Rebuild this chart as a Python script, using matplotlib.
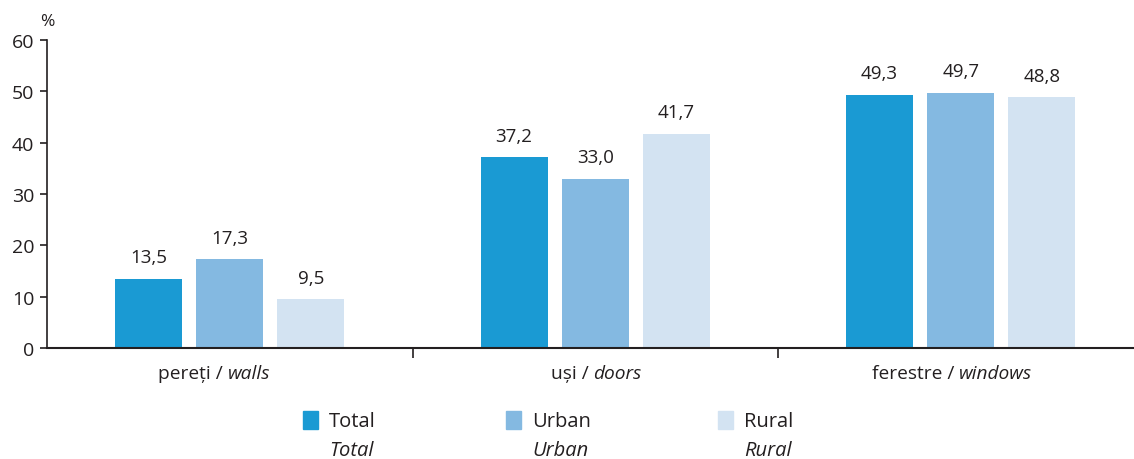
import matplotlib.pyplot as plt
import numpy as np

plt.rcParams['font.family'] = ['Open Sans', 'DejaVu Sans']

categorii = ['pereți', 'uși', 'ferestre']
categorii_en = ['walls', 'doors', 'windows']
serii = ['Total', 'Urban', 'Rural']
total = [13.5, 37.2, 49.3]
urban = [17.3, 33.0, 49.7]
rural = [9.5, 41.7, 48.8]
culori = ['#1a9ad3', '#84b9e1', '#d3e3f2']

fig = plt.figure(figsize=(11.34, 4.6), dpi=100)
ax = fig.add_axes([47 / 1134, 111 / 460, 1087 / 1134, 308 / 460])

x = np.arange(len(categorii))
latime = 0.183
pas = 0.222
for i, (valori, culoare) in enumerate(zip([total, urban, rural], culori)):
    bare = ax.bar(x + (i - 1) * pas, valori, width=latime, color=culoare, zorder=2)
    for b, v in zip(bare, valori):
        ax.annotate(f'{v:.1f}'.replace('.', ','), (b.get_x() + b.get_width() / 2, v),
                    xytext=(0, 9), textcoords='offset points', ha='center', va='bottom',
                    fontsize=13.5, color='#231f20')

ax.set_ylim(0, 60)
ax.set_xlim(-0.5, -0.5 + 1087 / 365.5)
ax.set_yticks(range(0, 61, 10))
ax.tick_params(axis='y', labelsize=14, length=5, width=1.2, colors='#231f20', pad=4)

# etichete categorii centrate, separatoare ca ticks minore
ax.set_xticks(x)
ax.set_xticklabels([])
ax.tick_params(axis='x', which='major', length=0)
ax.set_xticks([0.5, 1.5], minor=True)
ax.tick_params(axis='x', which='minor', length=7, width=1.2, direction='out', colors='#231f20')
for xi, ro, en in zip(x, categorii, categorii_en):
    ax.text(xi - 0.005, -4.8, ro + ' / ', ha='right', va='center', fontsize=13.8, color='#231f20',
            transform=ax.transData)
    ax.text(xi - 0.005, -4.8, en, ha='left', va='center', fontsize=13.8, style='italic',
            color='#231f20', transform=ax.transData)

for s in ['top', 'right']:
    ax.spines[s].set_visible(False)
ax.spines['left'].set_linewidth(1.2)
ax.spines['bottom'].set_linewidth(1.5)
ax.spines['left'].set_color('#231f20')
ax.spines['bottom'].set_color('#231f20')

fig.text(40 / 1134, 1 - 22 / 460, '%', fontsize=12.5, color='#231f20', ha='left', va='center')

# legenda
leg_x = [303, 506, 718]
for lx, nume, culoare in zip(leg_x, serii, culori):
    fig.patches.append(plt.Rectangle((lx / 1134, 1 - 430 / 460), 15 / 1134, 18 / 460,
                                     transform=fig.transFigure, color=culoare, figure=fig))
    fig.text((lx + 26) / 1134, 1 - 422 / 460, nume, fontsize=14.5, color='#231f20', va='center')
    fig.text((lx + 26) / 1134, 1 - 451 / 460, nume, fontsize=14.5, style='italic',
             color='#231f20', va='center')

fig.savefig('out.png', dpi=100)
